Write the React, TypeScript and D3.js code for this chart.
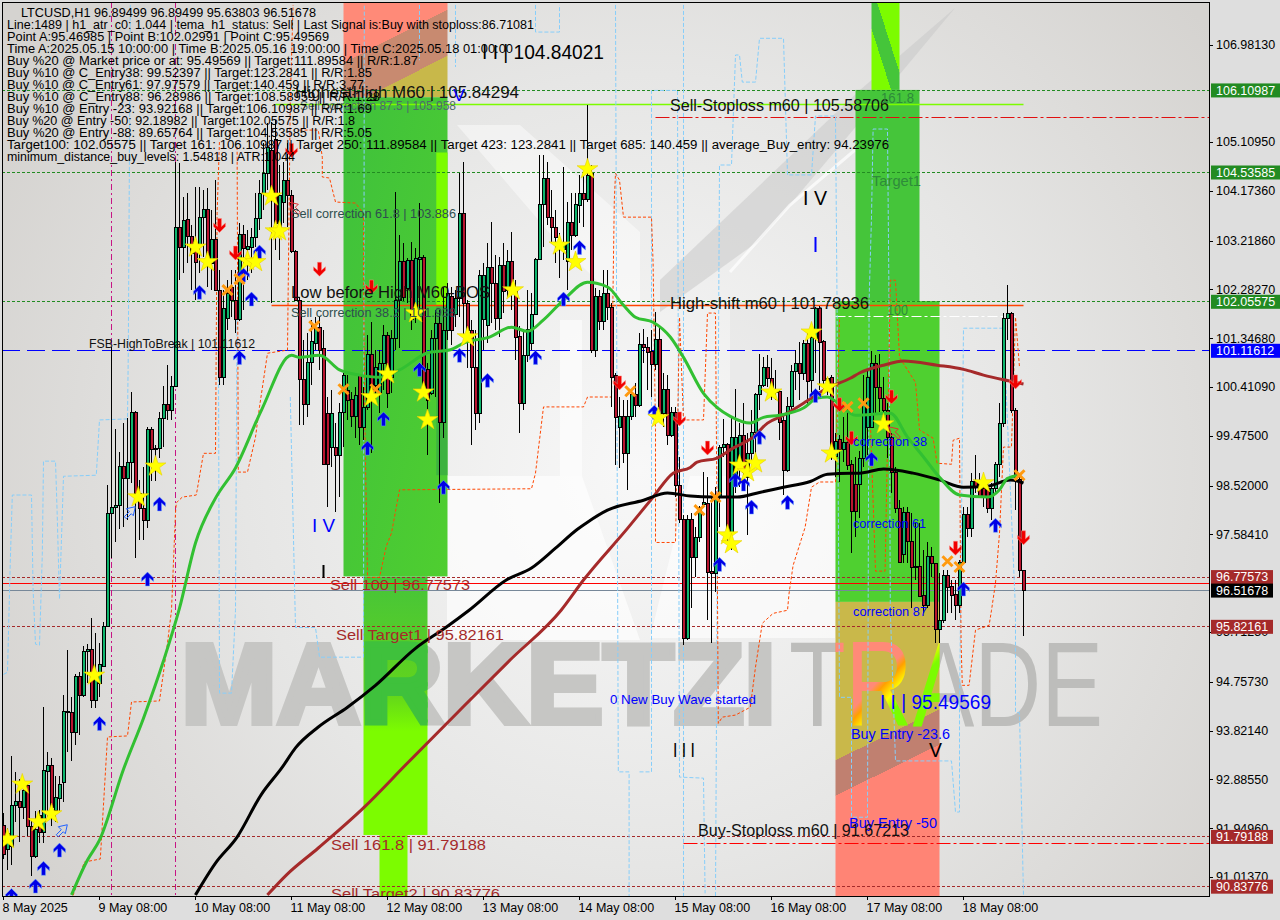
import * as d3 from 'd3'

type Pt = [number, number]

// bars are hourly, [open, high, low, close]
const candles: number[][] = [
  [92.0,92.25,91.35,91.45],[91.55,91.95,91.15,91.85],[91.59,93.33,91.24,92.38],[92.38,93.03,92.07,92.47],[92.47,92.89,91.68,92.34],
  [92.34,92.81,92.12,92.68],[92.76,92.81,91.8,91.99],[91.99,92.12,91.03,91.41],[91.41,92.28,91.38,91.93],[92.2,92.3,91.66,91.86],
  [91.86,94.27,91.66,93.05],[93.03,93.41,92.12,93.16],[93.16,93.29,91.99,92.34],[92.28,92.95,92.07,92.53],[92.51,92.95,92.28,92.78],
  [92.82,94.5,92.45,94.18],[94.16,95.37,93.41,94.18],[94.16,94.47,93.24,93.79],[93.79,94.9,93.54,94.86],[94.86,94.94,93.74,94.5],
  [94.5,95.44,94.47,95.33],[95.33,95.48,94.73,95.37],[95.37,95.98,94.26,94.39],[94.39,95.69,94.26,94.86],[94.73,95.5,94.47,95.08],
  [95.06,95.9,95.06,95.82],[95.82,98.53,95.82,97.99],[97.99,101.18,97.13,98.11],[98.11,99.6,97.44,98.13],[98.13,99.16,97.69,98.88],
  [98.88,99.72,97.72,98.65],[98.65,99.82,97.86,98.97],[98.97,100.31,98.57,99.93],[99.93,99.95,97.13,98.36],[98.36,98.63,97.48,98.09],
  [98.09,98.88,97.48,97.86],[97.86,99.65,97.7,99.59],[99.59,99.65,98.61,99.22],[99.23,99.3,98.61,99.21],[99.24,99.93,99.05,99.8],
  [99.8,100.43,99.26,100.07],[100.07,100.83,99.78,99.97],[99.97,100.62,99.78,100.43],[100.43,104.72,100.41,103.48],[103.48,104.7,102.46,103.09],
  [103.09,104.05,102.59,103.61],[103.63,104.13,102.79,103.3],[103.3,103.51,102.27,102.98],[103.13,104.24,102.08,102.8],[103.13,104.24,102.59,103.67],
  [103.67,104.19,102.9,103.82],[103.82,104.22,102.33,102.84],[102.79,103.8,102.27,103.25],[103.25,104.38,102.25,102.27],[102.27,102.65,100.45,100.6],
  [100.6,102.27,100.45,101.92],[101.73,102.46,101.5,102.21],[102.33,102.65,101.75,102.08],[102.08,102.65,101.44,101.7],[101.7,103.55,101.68,103.34],
  [103.34,103.51,101.89,103.07],[103.04,103.42,102.46,103.11],[103.09,103.46,102.59,103.28],[103.28,104.13,103.09,103.65],[103.65,104.38,103.42,104.13],
  [104.13,105.09,103.8,104.51],[104.51,105.47,104.19,105.01],[104.95,105.5,102.02,103.99],[105.15,105.53,103.04,103.55],[103.36,104.67,102.84,104.09],
  [103.96,104.72,103.55,104.38],[104.38,105.09,103.48,104.09],[104.09,104.19,102.98,103.02],[103.02,103.04,102.06,102.08],[102.08,102.14,99.68,100.55],
  [100.55,101.31,99.68,100.07],[100.07,101.44,99.83,100.89],[100.89,101.7,100.45,101.29],[101.25,101.75,101.12,101.56],[101.56,101.75,100.74,101.12],
  [101.15,101.5,98.92,98.92],[99.91,100.22,98.11,98.92],[99.26,100.35,98.88,99.91],[99.26,99.72,98.01,99.1],[99.1,100.1,98.3,99.93],
  [99.93,100.68,99.26,100.64],[100.35,100.64,99.78,100.16],[100.18,100.31,99.64,99.85],[99.85,100.41,99.43,100.24],[100.64,100.64,99.3,99.64],
  [99.64,100.41,99.4,100.01],[100.01,101.4,99.97,101.04],[101.04,101.65,99.14,100.29],[100.45,101.12,100.16,100.78],[100.29,101.12,99.91,100.87],
  [100.87,101.6,100.35,101.4],[101.4,101.46,100.01,100.29],[100.6,101.5,100.29,101.35],[101.35,104.15,101.12,102.08],[102.08,103.32,101.16,102.81],
  [102.81,103.17,102.06,102.12],[102.31,102.88,102.02,102.84],[102.84,103.19,101.5,101.7],[101.79,103.07,101.63,102.88],[102.86,103.94,101.89,102.9],
  [102.9,102.94,100.39,100.41],[100.74,100.87,99.1,100.16],[100.29,101.5,100.25,101.35],[101.35,101.89,100.22,101.63],[101.63,101.89,98.19,99.74],
  [99.74,102.33,99.43,101.5],[101.5,102.4,101.31,102.21],[102.14,102.33,101.21,101.5],[101.81,102.27,101.56,102.1],[102.1,104.51,101.75,103.74],
  [103.74,104.72,101.37,102.02],[102.02,102.08,100.78,101.5],[101.5,101.7,99.3,100.79],[100.79,101.5,99.59,99.91],[99.91,102.65,99.72,102.56],
  [101.7,102.79,101.12,102.56],[101.59,103.17,101.25,102.71],[102.71,103.57,101.63,102.4],[102.4,102.94,101.5,101.73],[101.73,102.9,101.37,102.75],
  [102.75,103.17,101.83,102.25],[102.27,103.04,102.14,102.82],[102.82,103.38,101.89,102.21],[102.33,102.46,100.93,101.37],[101.39,101.58,99.53,100.1],
  [100.1,101.5,99.97,101.02],[101.02,102.27,100.9,101.52],[101.25,102.21,101.12,101.81],[101.81,102.88,101.79,102.86],[102.86,104.86,102.84,103.92],
  [103.92,104.86,103.09,104.42],[104.42,104.72,103.51,103.67],[103.67,104.19,103.17,103.48],[103.48,103.8,102.79,103.27],[103.17,103.36,102.5,103.04],
  [103.04,104.63,102.84,103.17],[102.81,103.96,102.27,103.57],[103.57,104.13,103.04,103.32],[103.32,104.13,103.28,103.92],[103.9,104.47,103.55,104.13],
  [104.13,104.51,103.48,104.01],[104.01,105.82,103.96,104.47],[104.51,104.67,101.06,101.12],[101.12,102.31,100.98,102.14],[102.14,102.27,101.5,101.67],
  [101.67,102.65,101.5,102.21],[102.21,102.65,101.7,101.94],[101.94,102.02,100.03,100.6],[100.64,100.68,98.92,99.82],[99.64,100.22,98.86,99.85],
  [99.85,100.16,98.96,99.14],[99.14,100.16,98.44,99.85],[99.85,100.35,99.78,100.26],[100.26,100.49,99.83,100.05],[100.05,101.44,100.03,101.23],
  [101.23,101.52,100.87,101.17],[101.17,101.37,100.35,101.08],[101.1,101.5,100.22,100.85],[100.85,101.85,100.74,101.33],[101.33,101.54,99.83,99.91],
  [99.91,100.68,99.64,100.37],[100.37,100.64,99.3,99.49],[99.49,100.03,99.45,99.93],[99.93,100.03,98.3,98.53],[98.53,99.07,97.8,97.88],
  [97.88,97.95,95.46,95.59],[95.59,97.95,95.56,97.88],[97.88,97.99,96.17,97.15],[97.15,97.72,96.77,97.52],[97.52,98.13,97.44,98.11],
  [98.15,98.78,98.09,98.19],[98.17,98.69,95.94,96.86],[96.88,98.3,95.5,96.84],[96.84,98.49,96.48,98.3],[98.3,99.3,97.72,99.26],
  [99.26,99.8,99.07,99.3],[99.3,99.34,97.42,97.52],[97.61,99.83,97.29,99.45],[98.68,100.37,98.38,99.45],[99.01,99.72,98.49,99.49],
  [99.49,100.1,98.49,98.78],[98.68,99.53,97.57,99.14],[99.14,99.97,99.01,99.53],[99.53,100.29,99.07,100.27],[100.27,101.04,99.97,100.45],
  [100.45,100.98,100.41,100.79],[100.79,101.02,100.41,100.58],[100.58,100.97,100.16,100.41],[100.35,100.74,100.16,100.31],[100.33,100.35,99.4,99.74],
  [99.76,99.91,98.34,98.82],[98.82,100.22,98.78,100.03],[100.03,100.83,99.97,100.7],[100.7,101.12,100.35,100.87],[100.87,101.27,100.16,100.68],
  [100.68,101.31,100.55,101.25],[101.25,101.5,100.07,100.51],[100.53,101.46,100.16,101.37],[101.35,101.94,100.68,101.91],[101.91,101.96,100.35,101.27],
  [101.29,101.31,100.35,100.54],[100.58,100.6,100.26,100.45],[100.6,100.64,99.01,99.21],[99.07,99.53,98.68,99.37],[99.4,99.49,98.59,99.21],
  [99.21,99.83,98.97,99.34],[99.34,100.03,98.82,98.9],[98.92,99.01,97.23,98.03],[98.55,99.07,97.53,98.03],[98.55,99.19,97.9,99.05],
  [99.05,100.64,98.88,100.08],[99.64,100.74,99.1,100.6],[99.64,101.1,99.62,100.87],[100.87,101.02,99.91,100.41],[100.41,101.04,99.93,100.2],
  [100.2,100.6,99.78,99.97],[99.97,100.1,99.05,99.45],[99.45,99.53,98.38,98.78],[98.78,98.88,97.99,98.09],[98.09,98.24,97.04,97.05],
  [97.19,98.11,97.03,98.01],[98.01,98.11,97.03,97.44],[97.44,97.99,96.18,96.95],[96.97,97.8,96.71,96.95],[96.97,97.8,96.38,96.4],
  [96.42,97.29,96.07,96.23],[96.23,97.44,96.17,97.17],[97.17,97.34,96.77,97.03],[97.03,97.03,95.5,95.77],[95.77,96.84,95.5,95.94],
  [95.94,96.9,95.88,96.8],[96.8,96.9,96.07,96.57],[96.59,96.71,96.07,96.42],[96.44,96.71,95.94,96.23],[96.23,97.09,96.07,97.05],
  [97.05,98.11,97.03,97.97],[97.97,98.11,97.53,97.69],[97.69,98.76,97.53,98.59],[98.59,99.1,98.38,98.49],[98.59,98.76,98.28,98.3],
  [98.47,98.68,98.11,98.3],[98.47,98.57,97.99,98.09],[98.09,98.57,97.86,98.47],[98.47,98.97,98.38,98.92],[98.92,100.1,98.68,99.72],
  [99.72,101.83,99.64,101.73],[101.73,102.37,101.31,101.83],[101.83,101.85,99.91,99.97],[99.97,100.01,98.05,98.68],[98.63,98.68,96.77,96.9],
  [96.89,96.89,95.63,96.51],
]

const temaLine: Pt[] = [
  [17,90.67],[21,91.34],[24,91.72],[30,93.08],[35,94.06],[40,95.16],[44,96.17],[48,97.42],[53,98.28],[58,98.86],[64.5,99.97],[72,101.02],[74,100.98],[79,101.02],
  [84,100.74],[89,100.64],[94,100.6],[99,100.74],[106.5,101.08],[111.5,101.12],[115.5,101.27],[121.5,101.37],[127,101.56],[131,101.48],[135,101.7],[140,102.08],
  [146,102.42],[151,102.33],[155,101.98],[158,101.75],[162.5,101.65],[166.7,101.37],[170,100.98],[175,100.29],[178.5,100.01],[181.7,99.85],[186.7,99.72],[190,99.83],
  [194,99.87],[200,100.01],[203.5,100.2],[206,100.22],[208,100.14],[213,99.87],[221.7,99.91],[226,99.45],[230,99.07],[234,98.68],[239,98.34],[246,98.3],[249,98.44],[251,98.66],[254,98.72],
]
const blackMa: Pt[] = [
  [48,90.67],[53,91.28],[58.4,91.78],[64.4,92.59],[69.7,93.12],[73,93.49],[78.7,93.89],[86,94.27],[93,94.69],[103,95.4],[110.4,95.79],[116.4,96.13],[125.7,96.71],
  [132,96.94],[138,97.32],[143.4,97.68],[146,97.82],[151,98.05],[160,98.24],[166,98.38],[171.7,98.32],[177.4,98.3],[183.4,98.3],[189,98.39],[195,98.49],[201.7,98.6],
  [206,98.74],[211.7,98.76],[214,98.76],[220,98.84],[227.4,98.76],[234,98.63],[240,98.49],[246,98.51],[251.7,98.63],[255,98.57],
]
const brownMa: Pt[] = [
  [66,90.67],[70.7,91.05],[78.7,91.57],[90,92.34],[101,93.2],[113.4,94.16],[126.7,95.18],[139.4,96.13],[145,96.71],[156,97.7],[162.4,98.3],[167.4,98.76],[171.7,98.87],
  [173.4,98.97],[178.4,99.05],[182.4,99.24],[187.4,99.45],[191,99.72],[195,99.87],[200,100.1],[206,100.39],[211.7,100.58],[214,100.68],[220,100.83],[225,100.91],
  [233.4,100.83],[240,100.75],[245,100.64],[250,100.55],[255,100.47],
]

const stopSegments: Pt[][] = [
  [[17.4,90.66],[20.2,91.3],[24.2,91.36],[26,93.7],[31,93.72],[32,94.37],[39,94.39],[41,95.5],[42,96.13],[43,98],[43.2,98.19],[44.7,98.3],[48.2,98.34],[50,99.14],[53,99.14],[53.4,103.74],[54,105.15]],
  [[58.4,105.02],[58.7,98.78],[61,98.78],[63,99.45],[64,100.03],[66,101.06],[71,101.12],[71.4,103.86],[71.7,105.92],[72.4,107.74]],
  [[74,105.34],[78.7,105.34],[79.7,104.82],[79.7,104.44],[81.5,104.42],[83,103.96],[88,103.94],[90,103.74],[90,102.52],[90.4,99.39],[91,96.76],[94,96.76],[95.7,97.36],[97,97.61],[99,98.44],
   [132,98.46],[133,98.76],[135,100.03],[145,100.03],[146,100.22],[152,100.22],[152.7,103.99],[153,104.51],[154,104.38],[155,103.67],[162,103.67],[162.4,102.79],[163,99.59],[163,97.43],
   [168,97.43],[169,101.75],[170,99.78],[175,99.78],[176,101.83],[178,101.83],[178.4,97.61],[178.7,93.96],[179.7,94.08],[183,94.12],[186.7,94.27],[188,95.04],[189.7,95.88],[192.4,96.07],
   [196,96.13],[196.4,96.46],[197.4,96.99],[200.4,97.72],[202,98.49],[204,98.59],[208,98.59],[209,101.75]],
  [[216.7,99.78],[218,96.88],[220.4,96.88],[221.2,100.16],[221.7,102.46],[223,102.46],[224,100.98],[228,100.5],[229,99.59],[232.4,99.43],[233.4,98.95],[237,98.93],[237.4,99.39],[239,99.43],
   [239.4,95.5],[239.7,94.69],[241.4,94.69],[243,95.75],[246.4,95.84],[247,96.13],[248,96.65],[249,97.61],[250,99.26],[252,99.26],[253,101.75],[254,100.79]],
]
const bandSegments: Pt[][] = [
  [[0,94.9],[1,94.94],[1.7,97.07],[2.2,98.34],[7,98.34],[7.4,96.52],[8,95.48],[9,95.46],[9.7,97.2],[10,98.99],[13,98.99],[13.4,98.03],[14,96.34],[15,98.7],[23.2,98.72],[24,99.78],[31,99.8],[31.2,101.1],[31.7,107.74]],
  [[53.7,102.08],[54,94.54],[57,94.54],[58,96.13],[58.4,102.08]],
  [[71.7,100.22],[73,95.8],[78,95.8],[79,95.23],[90,95.23],[90.2,107.74]],
  [[104,107.74],[104,106.68]],
  [[113,107.74],[113,106.55]],
  [[133,107.74],[133,107.22],[139,107.22],[139,107.74]],
  [[153,107.74],[153.7,93.03],[156.4,93.03],[156.4,90.65]],
  [[159,93.03],[162,93.03],[162,106.1],[168.5,106.1],[169,92.93],[175,92.91],[175.4,90.7]],
  [[170,107.74],[170,90.65]],
  [[178,90.65],[179,104.67],[182,104.67],[183,106.78],[184,106.78],[184.7,106.26],[188,106.26],[189,107.1],[195,107.1],[196,104.48],[202,104.48],[203,105.61],[208,105.61],[208.4,101.88],
   [209,94.46],[212,94.46],[212,92.16],[216,92.16],[216.4,102.08],[217,103.67],[217.4,105.36],[221,105.36],[221.4,101.88],[221.7,96.13],[223,93.24],[237,93.24],[238,92.26],[239,92.26],[239,94.22],
   [240,101.54],[250,101.54],[253,96.13],[253,94.18],[254,94.16],[255,90.65]],
]

const starPoints: Pt[] = [
  [1,91.74],[4.7,92.79],[8.7,92.07],[12,92.22],[22.7,94.88],[33.7,98.3],[38,98.89],[48,103.09],[51,102.81],[61,102.83],[63,102.81],[67,104.07],[68,103.4],[69,103.4],
  [92,100.22],[96,100.66],[103,101.83],[105,100.31],[106,99.78],[116,101.37],[127.4,102.27],[139,103.13],[143,102.81],[146,104.59],[163.7,99.82],[181,97.57],[182,97.4],
  [184,98.91],[186,98.78],[188,98.95],[192,100.31],[202,101.46],[206,100.41],[207,99.14],[220,99.7],[245,98.57],
]
const buyArrows: Pt[] = [
  [2,90.66],[8,90.84],[10,91.18],[14,91.53],[24,93.96],[36,96.73],[39,98.17],[49,102.23],[59,100.98],[60,102.56],[62,102.1],[64,103],[91,99.24],[95,99.8],[104,100.75],
  [110,98.49],[114,101.02],[121,100.54],[133,100.98],[140,102.1],[144,103.09],[162.7,99.93],[179,97.01],[183,98.63],[185,98.55],[187,98.11],[189,99.45],[196,98.2],[203,100.25],
  [217,99.03],[240,96.54],[248,97.76],
]
const sellArrows: Pt[] = [
  [54,103.51],[58,102.98],[72,104.95],[79,102.67],[92,102.33],[154,100.49],[169,99.8],[176,99.24],[209,100.07],[212,99.43],[222,100.22],[238,97.32],[253,100.51],[255,97.52],
]
const crossPoints: Pt[] = [
  [56,102.27],[59,102.48],[77.7,101.58],[85,100.37],[93,100.37],[156.7,100.33],[174,98.05],[178,98.3],[211,100.03],[215,100.1],[236,97.07],[239,96.96],[254,98.72],
]
const hollowBlue: Pt[] = [[14.7,91.92],[31.7,98.02]]
const hollowRed: Pt[] = [[72.7,103.86],[222.7,99.55]]

const priceTicks = [106.9813,105.1095,104.1736,103.2186,102.2827,101.3468,100.4109,99.475,98.52,97.5841,95.7125,94.7573,93.8214,92.8855,91.9496,91.0137]
const tickLabels = ['106.98130','105.10950','104.17360','103.21860','102.28270','101.34680','100.41090','99.47500','98.52000','97.58410','95.71250','94.75730','93.82140','92.88550','91.94960','91.01370']
const dayBars = [0,24,48,72,96,120,144,168,192,216,240]
const dayLabels = ['8 May 2025','9 May 08:00','10 May 08:00','11 May 08:00','12 May 08:00','13 May 08:00','14 May 08:00','15 May 08:00','16 May 08:00','17 May 08:00','18 May 08:00']

const tagPrices = [106.10987,104.53585,102.05575,101.11612,96.77573,96.51678,95.82161,91.79188,90.83776]
const tagFills = ['#228b22','#228b22','#228b22','#0000ff','#a52a2a','#000000','#a52a2a','#a52a2a','#a52a2a']

const greenLevels = [106.10987,104.53585,102.05575]
const brownLevels = [96.77573,95.82161,91.79188,90.83776]

const headerLines: [string, number, number][] = [
  ['LTCUSD,H1  96.89499 96.89499 95.63803 96.51678',21,295],
  ['Line:1489 | h1_atr_c0: 1.044 | tema_h1_status: Sell | Last Signal is:Buy with stoploss:86.71081',7,527],
  ['Point A:95.46985 | Point B:102.02991 | Point C:95.49569',7,322],
  ['Time A:2025.05.15 10:00:00 | Time B:2025.05.16 19:00:00 | Time C:2025.05.18 01:00:00',7,506],
  ['Buy %20 @ Market price or at: 95.49569 || Target:111.89584 || R/R:1.87',7,411],
  ['Buy %10 @ C_Entry38: 99.52397 || Target:123.2841 || R/R:1.85',7,365],
  ['Buy %10 @ C_Entry61: 97.97579 || Target:140.459 || R/R:3.77',7,357],
  ['Buy %10 @ C_Entry88: 96.28986 || Target:108.58959 || R/R:1.28',7,373],
  ['Buy %10 @ Entry -23: 93.92168 || Target:106.10987 || R/R:1.69',7,365],
  ['Buy %20 @ Entry -50: 92.18982 || Target:102.05575 || R/R:1.8',7,348],
  ['Buy %20 @ Entry -88: 89.65764 || Target:104.53585 || R/R:5.05',7,365],
  ['Target100: 102.05575 || Target 161: 106.10987 || Target 250: 111.89584 || Target 423: 123.2841 || Target 685: 140.459 || average_Buy_entry: 94.23976',7,882],
  ['minimum_distance_buy_levels: 1.54818 | ATR:1.044',7,288],
]

// text, left, vertical centre, size, colour, width
const notes: [string, number, number, number, string, number][] = [
  ['I I | 104.84021',482,52,21,'#000',122],
  ['Sell correction 87.5 | 105.958',300,106,12.5,'#4f6a6a',156],
  ['HighestHigh   M60 | 105.84294',295,92,17,'#111',224],
  ['V',453,95,16,'#0000ff',12],
  ['Sell correction 61.8 | 103.886',291,214,12.5,'#2f4f4f',165],
  ['Low before High   M60-BOS',291,292,16.5,'#111',199],
  ['Sell correction 38.2 | 101.938',291,313,12.5,'#2f4f4f',165],
  ['FSB-HighToBreak | 101.11612',89,343,13,'#111',166],
  ['I V',312,525,19,'#0000ff',23],
  ['Sell 100 | 96.77573',330,585,15.5,'#a52a2a',140],
  ['Sell Target1 | 95.82161',336,635,15.5,'#a52a2a',168],
  ['Sell 161.8 | 91.79188',331,845,15.5,'#a52a2a',155],
  ['Sell Target2 | 90.83776',331,894,15.5,'#a52a2a',169],
  ['0 New Buy Wave started',610,699,13,'#0000ff',146],
  ['I I I',673,750,21,'#000',22],
  ['V',929,750,21,'#000',13],
  ['I I | 95.49569',880,702,20,'#0000ff',111],
  ['Buy Entry -23.6',851,734,15,'#0000ff',99],
  ['Buy Entry -50',849,823,15,'#0000ff',88],
  ['Buy-Stoploss m60 | 91.67213',698,830,16.5,'#111',211],
  ['correction 87',853,611,13,'#0000ff',74],
  ['correction 61',853,523,13,'#0000ff',73],
  ['correction 38',853,441,13,'#0000ff',74],
  ['Sell-Stoploss m60 | 105.58706',670,105,16.5,'#111',219],
  ['High-shift m60 | 101.78936',670,303,16.5,'#111',199],
  ['161.8',881,98,14,'#2e8b3a',33],
  ['Target1',872,181,15,'#2e8b3a',49],
  ['100',887,310,14,'#2e8b3a',21],
  ['I V',803,198,20,'#000',24],
]

const zoneBars: Pt[] = [[85,111],[85,111],[108.2,111],[108.2,111],[90,106],[94,101],[217,224],[213,229],[208,234],[208,234]]
const zonePrices: Pt[] = [[107.79,105.97],[105.97,96.78],[104.91,101.98],[101.98,98.72],[96.78,91.82],[91.82,90.65],[107.79,106.11],[106.11,102.06],[102.06,96.29],[96.29,90.65]]
const zoneFills = ['url(#zoneTop)','url(#zoneGreen)','#7cfc00','#3db23f','url(#zoneLime)','#7cfc00','url(#zoneSpike)','#45c53a','#4fd030','url(#zoneBuy)']

const font = '"Liberation Sans", Arial, sans-serif'
const greenBody = '#0fb56d'
const redBody = '#b8152f'
const upGlyph = 'M0,-7L6,-1L6,2.5L2,-1L2,7L-2,7L-2,-1L-6,2.5L-6,-1Z'
const hollowGlyph = 'M-6,5L-1,0L-4,-3L5,-5L3,4L1,2L-4,7Z'

export default function App() {
  const x = d3.scaleLinear().domain([0, 255]).range([3.5, 1023.5])
  const y = d3.scaleLinear().domain([106.9813, 91.0137]).range([44.5, 877])
  const snap = (p: number) => Math.round(y(p)) + 0.5
  const line = d3.line<Pt>().x(d => x(d[0])).y(d => y(d[1]))
  const smooth = d3.line<Pt>().x(d => x(d[0])).y(d => y(d[1])).curve(d3.curveMonotoneX)
  const star = d3.symbol(d3.symbolStar, 135)()!

  return (
    <svg width={1280} height={920} style={{ position: 'fixed', left: 0, top: 0, display: 'block', fontFamily: font }}>
      <defs>
        <radialGradient id="chartBg" gradientUnits="userSpaceOnUse" cx={640} cy={470} r={720}>
          <stop offset="0" stopColor="#f8f8f8" />
          <stop offset="0.55" stopColor="#e6e6e5" />
          <stop offset="1" stopColor="#d5d3d0" />
        </radialGradient>
        <linearGradient id="zoneTop" gradientUnits="userSpaceOnUse" x1={395} y1={36.5} x2={413.6} y2={73}>
          <stop offset="0" stopColor="#ff8a78" />
          <stop offset="0" stopColor="#c88a70" />
          <stop offset="1" stopColor="#c88a70" />
          <stop offset="1" stopColor="#c8b84a" />
        </linearGradient>
        <linearGradient id="zoneBuy" gradientUnits="userSpaceOnUse" x1={887} y1={735} x2={901} y2={763.5}>
          <stop offset="0" stopColor="#c9b84a" />
          <stop offset="0" stopColor="#c08070" />
          <stop offset="1" stopColor="#c08070" />
          <stop offset="1" stopColor="#ff8475" />
        </linearGradient>
        <linearGradient id="zoneGreen" x1="0" y1="0" x2="1" y2="1">
          <stop offset="0" stopColor="#3fc13c" />
          <stop offset="1" stopColor="#4fce30" />
        </linearGradient>
        <linearGradient id="zoneLime" x1="0" y1="0" x2="0" y2="1">
          <stop offset="0" stopColor="#46c43a" />
          <stop offset="0.45" stopColor="#62d41c" />
          <stop offset="0.6" stopColor="#7cfc00" />
          <stop offset="1" stopColor="#7cfc00" />
        </linearGradient>
        <linearGradient id="zoneSpike" x1="0" y1="1" x2="1" y2="0">
          <stop offset="0" stopColor="#7cfc00" />
          <stop offset="0.35" stopColor="#7cfc00" />
          <stop offset="0.35" stopColor="#45c53a" />
          <stop offset="0.6" stopColor="#45c53a" />
          <stop offset="0.6" stopColor="#7cfc00" />
          <stop offset="1" stopColor="#7cfc00" />
        </linearGradient>
        <linearGradient id="tradeGlyph" gradientUnits="userSpaceOnUse" x1={840} y1={640} x2={930} y2={720}>
          <stop offset="0" stopColor="#ff8a78" />
          <stop offset="0.46" stopColor="#ff8a78" />
          <stop offset="0.52" stopColor="#ffa000" />
          <stop offset="0.62" stopColor="#ffff00" />
          <stop offset="0.72" stopColor="#7cfc00" />
          <stop offset="1" stopColor="#7cfc00" />
        </linearGradient>
        <clipPath id="plot"><rect x={2} y={2} width={1207} height={894} /></clipPath>
        <clipPath id="clipSell"><rect x={x(90)} y={y(96.78)} width={x(106) - x(90)} height={y(91.82) - y(96.78)} /></clipPath>
        <clipPath id="clipBuy"><rect x={x(208)} y={y(96.29)} width={x(234) - x(208)} height={y(90.65) - y(96.29)} /></clipPath>
      </defs>

      <rect width={1280} height={920} fill="#dedede" />
      <g clipPath="url(#plot)">
        <rect x={2} y={2} width={1207} height={894} fill="url(#chartBg)" />

        {/* logo shapes behind everything */}
        <g>
          <polygon points="447,476 582,476 640,640 447,640" fill="#fff" opacity={0.65} />
          <polygon points="690,476 835,476 835,638 650,638" fill="#fff" opacity={0.6} />
          <polygon points="560,320 582,320 582,476 560,476" fill="#fff" opacity={0.6} />
          <polygon points="457,125 520,125 640,232 640,322 560,245" fill="#fff" opacity={0.45} />
          <polygon points="955,8 860,90 660,280 660,312 760,240 870,110" fill="#c9c9c9" opacity={0.55} />
          <polyline points="730,272 790,205 855,150" fill="none" stroke="#fff" strokeWidth={3} opacity={0.7} />
          <polygon points="730,300 835,300 835,476 730,476" fill="#dcdcdc" opacity={0.35} />
        </g>
        <text x={181} y={723} fontSize={113} fontWeight="bold" fill="#c6c6c4" stroke="#c6c6c4" strokeWidth={6} textLength={595} lengthAdjust="spacingAndGlyphs">MARKETZI</text>
        <text x={789} y={726} fontSize={120} fill="#bdbdbb" textLength={314} lengthAdjust="spacingAndGlyphs">TRADE</text>

        {zoneBars.map((b, i) => (
          <rect key={i} x={x(b[0])} y={y(zonePrices[i][0])} width={x(b[1]) - x(b[0])} height={y(zonePrices[i][1]) - y(zonePrices[i][0])} fill={zoneFills[i]} />
        ))}
        <g clipPath="url(#clipSell)">
          <text x={181} y={723} fontSize={113} fontWeight="bold" fill="#3fc13c" stroke="#3fc13c" strokeWidth={6} textLength={595} lengthAdjust="spacingAndGlyphs">MARKETZI</text>
        </g>
        <g clipPath="url(#clipBuy)">
          <text x={789} y={726} fontSize={120} fill="url(#tradeGlyph)" textLength={314} lengthAdjust="spacingAndGlyphs">TRADE</text>
        </g>

        {/* level lines */}
        {greenLevels.map(p => <line key={p} x1={2} x2={1209} y1={snap(p)} y2={snap(p)} stroke="#228b22" strokeDasharray="3,2" />)}
        {brownLevels.map(p => <line key={p} x1={2} x2={1209} y1={snap(p)} y2={snap(p)} stroke="#a52a2a" strokeDasharray="3,2" />)}
        <line x1={2} x2={1209} y1={snap(101.11612)} y2={snap(101.11612)} stroke="#0000ff" strokeDasharray="18,7" />
        <line x1={2} x2={1209} y1={snap(96.66)} y2={snap(96.66)} stroke="#ff0000" />
        <line x1={2} x2={1209} y1={snap(96.51678)} y2={snap(96.51678)} stroke="#778899" />
        <line x1={x(68)} x2={x(255)} y1={snap(105.84294)} y2={snap(105.84294)} stroke="#7cfc00" strokeWidth={1.5} />
        <line x1={x(163)} x2={1209} y1={snap(105.58706)} y2={snap(105.58706)} stroke="#e01010" strokeDasharray="14,3,3,3" />
        <line x1={x(67)} x2={x(255)} y1={snap(101.98)} y2={snap(101.98)} stroke="#ff4500" strokeWidth={1.5} />
        <line x1={x(208)} x2={x(253)} y1={snap(101.77)} y2={snap(101.77)} stroke="#fff" strokeDasharray="10,3,3,3" />
        <line x1={x(170)} x2={1209} y1={snap(91.67213)} y2={snap(91.67213)} stroke="#ff0000" strokeDasharray="14,3,3,3" />
        {[27, 43].map(b => <line key={b} x1={x(b)} x2={x(b)} y1={2} y2={896} stroke="#c71585" strokeDasharray="6,3,2,3" />)}

        {bandSegments.map((s, i) => <path key={i} d={line(s)!} fill="none" stroke="#87cefa" strokeDasharray="4,2" />)}
        {stopSegments.map((s, i) => <path key={i} d={line(s)!} fill="none" stroke="#ff4500" strokeDasharray="3,2" />)}

        {/* candles */}
        <g shapeRendering="crispEdges">
          {candles.map((c, i) => {
            const top = y(Math.max(c[0], c[3]))
            const bottom = y(Math.min(c[0], c[3]))
            return (
              <g key={i}>
                <line x1={x(i)} x2={x(i)} y1={y(c[1])} y2={y(c[2])} stroke="#000" />
                <rect x={x(i) - 1.5} y={top} width={3} height={Math.max(bottom - top, 1)} fill={c[3] >= c[0] ? greenBody : redBody} stroke="#000" />
              </g>
            )
          })}
        </g>

        <path d={smooth(brownMa)!} fill="none" stroke="#a52a2a" strokeWidth={3} />
        <path d={smooth(blackMa)!} fill="none" stroke="#000" strokeWidth={3} />
        <path d={smooth(temaLine)!} fill="none" stroke="#32c032" strokeWidth={3} />

        {buyArrows.map((p, i) => <path key={i} d={upGlyph} transform={`translate(${x(p[0])},${y(p[1])})`} fill="#0000e6" stroke="#6aa5ff" strokeWidth={0.5} />)}
        {sellArrows.map((p, i) => <path key={i} d={upGlyph} transform={`translate(${x(p[0])},${y(p[1])}) scale(1,-1)`} fill="#f00000" stroke="#ff8a80" strokeWidth={0.5} />)}
        {hollowBlue.map((p, i) => <path key={i} d={hollowGlyph} transform={`translate(${x(p[0])},${y(p[1])})`} fill="none" stroke="#2060ff" />)}
        {hollowRed.map((p, i) => <path key={i} d={hollowGlyph} transform={`translate(${x(p[0])},${y(p[1])}) scale(-1,1)`} fill="none" stroke="#e03030" />)}
        {crossPoints.map((p, i) => (
          <path key={i} d="M-5,-5L5,5M-5,5L5,-5" transform={`translate(${x(p[0])},${y(p[1])})`} stroke="#ff9a10" strokeWidth={3} fill="none" />
        ))}
        {starPoints.map((p, i) => <path key={i} d={star} transform={`translate(${x(p[0])},${y(p[1])})`} fill="#ffff00" stroke="#e8d000" strokeWidth={0.6} />)}

        {notes.map(([t, left, mid, size, color, w], i) => (
          <text key={i} x={left} y={mid} dy="0.35em" fontSize={size} fill={color} textLength={w} lengthAdjust="spacingAndGlyphs">{t}</text>
        ))}
        <line x1={x(80)} x2={x(80)} y1={565} y2={578} stroke="#000" strokeWidth={2} />
        <line x1={x(203)} x2={x(203)} y1={237} y2={252} stroke="#0000ff" strokeWidth={2} />

        {headerLines.map(([t, left, w], i) => (
          <text key={i} x={left} y={17 + i * 12} fontSize={12} fill="#000" textLength={w} lengthAdjust="spacingAndGlyphs">{t}</text>
        ))}
      </g>

      <rect x={2.5} y={2.5} width={1207} height={894} fill="none" stroke="#000" />

      {priceTicks.map((p, i) => (
        <g key={p}>
          <line x1={1209} x2={1213} y1={snap(p)} y2={snap(p)} stroke="#000" />
          <text x={1216} y={y(p)} dy="0.35em" fontSize={12.5} fill="#000">{tickLabels[i]}</text>
        </g>
      ))}
      {tagPrices.map((p, i) => {
        const label = p.toFixed(5)
        const w = label.length > 8 ? 69 : 62
        return (
          <g key={p}>
            <rect x={1211} y={y(p) - 6.5} width={w} height={14} fill={tagFills[i]} />
            <text x={1216} y={y(p)} dy="0.38em" fontSize={12.5} fill="#fff">{label}</text>
          </g>
        )
      })}
      {dayBars.map((b, i) => (
        <g key={b}>
          <line x1={x(b)} x2={x(b)} y1={896} y2={900} stroke="#000" />
          <text x={x(b) - 1} y={912} fontSize={12.5} fill="#000">{dayLabels[i]}</text>
        </g>
      ))}
    </svg>
  )
}
